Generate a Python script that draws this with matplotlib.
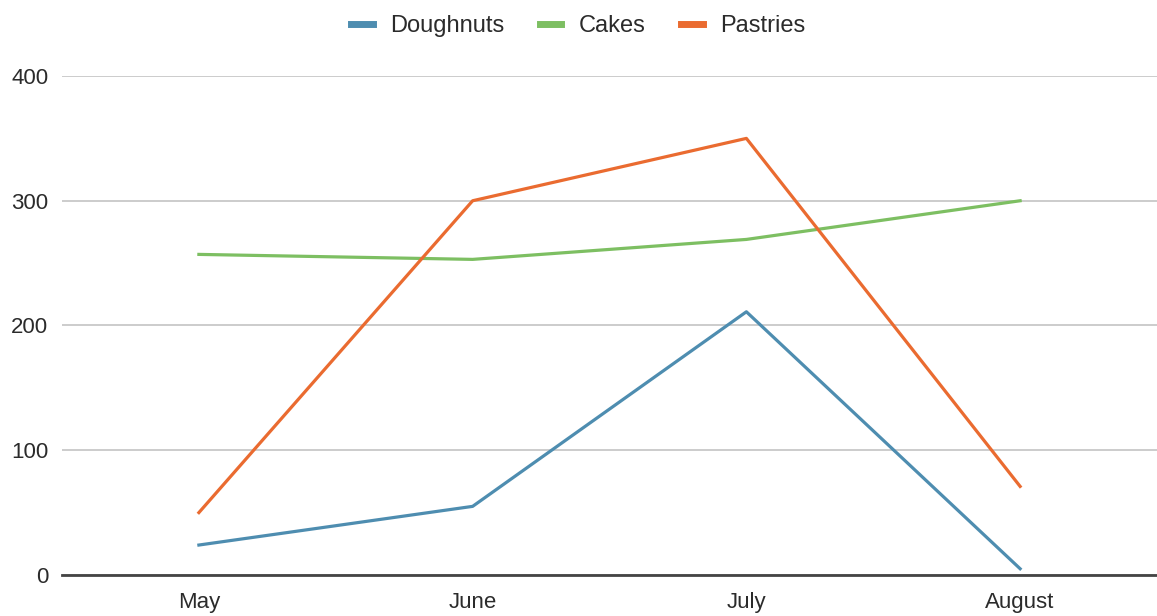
import matplotlib.pyplot as plt

plt.rcParams['font.family'] = ['Liberation Sans', 'DejaVu Sans']

months = ["May", "June", "July", "August"]
doughnuts = [24, 55, 211, 5]
cakes = [257, 253, 269, 300]
pastries = [50, 300, 350, 71]

series = [
    ("Doughnuts", doughnuts, "#4e8db0"),
    ("Cakes", cakes, "#7dbf62"),
    ("Pastries", pastries, "#ea6b30"),
]

fig = plt.figure(figsize=(11.57, 6.16), dpi=100)
ax = fig.add_axes([0.0536, 0.0666, 0.9464, 0.81])

x = range(len(months))
for name, vals, color in series:
    ax.plot(x, vals, color=color, linewidth=2.3, label=name)

ax.set_xlim(-0.5, 3.5)
ax.set_ylim(0, 400)
ax.set_yticks([0, 100, 200, 300, 400])
ax.set_xticks(list(x))
ax.set_xticklabels(months)

ax.grid(axis="y", color="#cccccc", linewidth=1.4)
ax.set_axisbelow(True)
for side in ["top", "right", "left"]:
    ax.spines[side].set_visible(False)
ax.spines["bottom"].set_color("#444444")
ax.spines["bottom"].set_linewidth(2)
ax.spines["bottom"].set_zorder(3)

ax.tick_params(axis="both", length=0, labelsize=16, colors="#2b2b2b")
ax.tick_params(axis="y", pad=10)
ax.tick_params(axis="x", pad=12)

leg = fig.legend(loc="upper center", bbox_to_anchor=(0.5, 1.01), ncol=3,
                 frameon=False, fontsize=17, handlelength=0.9,
                 handletextpad=0.75, columnspacing=1.5, labelcolor="#2b2b2b")
for h in leg.get_lines():
    h.set_linewidth(5)

fig.savefig("out.png", dpi=100, facecolor="white")
